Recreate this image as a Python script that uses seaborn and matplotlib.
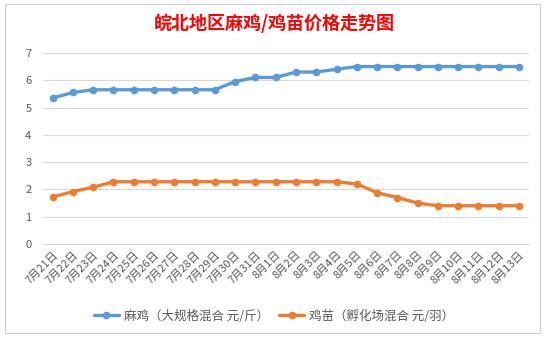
import matplotlib
matplotlib.use("Agg")
import matplotlib.pyplot as plt
import seaborn as sns
import pandas as pd
import numpy as np
from matplotlib.patches import Rectangle
from matplotlib.ticker import FixedLocator

dates = ["7月21日", "7月22日", "7月23日", "7月24日", "7月25日", "7月26日", "7月27日", "7月28日",
         "7月29日", "7月30日", "7月31日", "8月1日", "8月2日", "8月3日", "8月4日", "8月5日",
         "8月6日", "8月7日", "8月8日", "8月9日", "8月10日", "8月11日", "8月12日", "8月13日"]
maji = [5.35, 5.55, 5.65, 5.65, 5.65, 5.65, 5.65, 5.65, 5.65, 5.95, 6.1, 6.1,
        6.3, 6.3, 6.4, 6.5, 6.5, 6.5, 6.5, 6.5, 6.5, 6.5, 6.5, 6.5]
jimiao = [1.72, 1.92, 2.08, 2.28, 2.28, 2.28, 2.28, 2.28, 2.28, 2.28, 2.28, 2.28,
          2.28, 2.28, 2.28, 2.2, 1.88, 1.7, 1.5, 1.4, 1.4, 1.4, 1.4, 1.4]
series_names = ["麻鸡（大规格混合 元/斤）", "鸡苗（孵化场混合 元/羽）"]
title = "皖北地区麻鸡/鸡苗价格走势图"

sns.set_theme(style="white")
plt.rcParams['font.family'] = ['Noto Sans CJK SC', 'DejaVu Sans']

df = pd.DataFrame({
    "x": list(range(len(dates))) * 2,
    "value": maji + jimiao,
    "series": [series_names[0]] * len(dates) + [series_names[1]] * len(dates),
})

fig = plt.figure(figsize=(5.48, 3.37), dpi=100)
ax = fig.add_axes([0.0776, 0.276, 0.888, 0.567])

sns.lineplot(data=df, x="x", y="value", hue="series",
             palette=["#5B9BD5", "#ED7D31"], marker="o", markersize=5.5,
             markeredgewidth=0, linewidth=2.4, ax=ax, legend=True)

ax.set_xlim(-0.5, len(dates) - 0.5)
ax.set_ylim(0, 7)
ax.set_yticks(range(0, 8))
ax.set_yticklabels([str(i) for i in range(0, 8)], fontsize=8, color="#595959")
ax.set_xticks(range(len(dates)))
ax.set_xticklabels(dates, rotation=45, ha="right", rotation_mode="anchor",
                   fontsize=8, color="#595959")
ax.tick_params(axis="x", which="major", length=0, pad=4)
ax.tick_params(axis="y", length=0, pad=8)
ax.xaxis.set_minor_locator(FixedLocator(np.arange(-0.5, len(dates), 1.0)))
ax.tick_params(axis="x", which="minor", length=4, color="#D9D9D9", width=0.8)
ax.set_xlabel("")
ax.set_ylabel("")
ax.grid(axis="y", color="#D9D9D9", linewidth=0.8)
ax.set_axisbelow(True)
for s in ["top", "right", "left"]:
    ax.spines[s].set_visible(False)
ax.spines["bottom"].set_color("#D9D9D9")
ax.spines["bottom"].set_linewidth(0.8)

handles, labels = ax.get_legend_handles_labels()
ax.legend_.remove()
fig.legend(handles, labels, loc="center", bbox_to_anchor=(0.5, 0.062), ncol=2,
           frameon=False, fontsize=9, handlelength=2.0, handletextpad=0.4,
           columnspacing=0.8, labelcolor="#595959")

fig.text(0.5, 0.93, title, ha="center", va="center", color="#FF0000",
         fontsize=13, fontweight="bold")

fig.patches.append(Rectangle((5 / 548, 4 / 337), 535 / 548, 329 / 337,
                             transform=fig.transFigure, fill=False,
                             edgecolor="#D0D0D0", linewidth=0.8))

fig.savefig("out.png", dpi=100)
